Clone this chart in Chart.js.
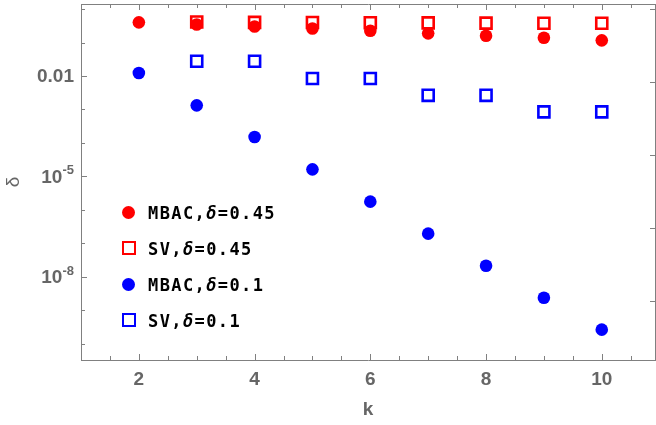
<!DOCTYPE html>
<html>
<head>
<meta charset="utf-8">
<script src="https://cdn.jsdelivr.net/npm/chart.js@4.4.0/dist/chart.umd.min.js"></script>
<style>
  body { margin: 0; background: #fff; }
  #wrap { position: relative; width: 656px; height: 425px; }
  #legend { position: absolute; left: 0; top: 0; font: bold 17px "DejaVu Sans Mono", monospace; letter-spacing: 1.4px; color: #000; }
  #legend .row { position: absolute; left: 120px; height: 20px; line-height: 20px; white-space: nowrap; }
  #legend .mk { position: absolute; left: 2px; top: 3px; width: 13px; height: 13px; box-sizing: border-box; }
  #legend .txt { position: absolute; left: 28px; top: 0; }
  #legend i { font-style: italic; }
</style>
</head>
<body>
<div id="wrap">
  <canvas id="chart" width="656" height="425"></canvas>
  <div id="legend"></div>
</div>
<script>
// values
const kMBAC = [2, 3, 4, 5, 6, 7, 8, 9, 10];
const kSV = [3, 4, 5, 6, 7, 8, 9, 10];
const mbac045 = [0.40, 0.344, 0.30, 0.262, 0.225, 0.188, 0.16, 0.139, 0.116];
const sv045 = [0.41, 0.40, 0.395, 0.39, 0.385, 0.38, 0.375, 0.375];
const mbac01 = [0.0123, 0.00133, 1.51e-4, 1.63e-5, 1.77e-6, 1.96e-7, 2.17e-8, 2.4e-9, 2.67e-10];
const sv01 = [0.0276, 0.0276, 0.0084, 0.0084, 0.00265, 0.00265, 0.00085, 0.00085];

const seriesLabels = ["MBAC,δ=0.45", "SV,δ=0.45", "MBAC,δ=0.1", "SV,δ=0.1"];

// ticks
const xTickValues = [1.5, 2, 2.5, 3, 3.5, 4, 4.5, 5, 5.5, 6, 6.5, 7, 7.5, 8, 8.5, 9, 9.5, 10, 10.5];
const xTickLabels = [2, 4, 6, 8, 10];
const yTickValues = [1, 1e-1, 1e-2, 1e-3, 1e-4, 1e-5, 1e-6, 1e-7, 1e-8, 1e-9, 1e-10];
const yLabelValues = [1e-2, 1e-5, 1e-8];
const yLabelBases = ["0.01", "10", "10"];
const yLabelExps = ["", "-5", "-8"];
const rightTickValues = [0, -2.18, -4.36, -6.54, -8.72];

const axisColor = "#808080";
const labelColor = "#666666";
const tickFont = "Liberation Sans";

const toPoints = (xs, ys) => xs.map((x, i) => ({ x: x, y: ys[i] }));

const frameTicks = {
  id: "frameTicks",
  beforeDatasetsDraw(chart) {
    const { ctx, chartArea: a, scales } = chart;
    const { x, y, yRight } = scales;
    ctx.save();
    ctx.strokeStyle = axisColor;
    ctx.lineWidth = 1;
    ctx.beginPath();
    x.ticks.forEach(t => {
      const px = Math.round(x.getPixelForValue(t.value)) + 0.5;
      const len = t.value % 2 === 0 ? 6 : 4;
      ctx.moveTo(px, a.bottom); ctx.lineTo(px, a.bottom - len);
      ctx.moveTo(px, a.top); ctx.lineTo(px, a.top + len);
    });
    y.ticks.forEach(t => {
      const py = Math.round(y.getPixelForValue(t.value)) + 0.5;
      const len = yLabelValues.includes(t.value) ? 6 : 4;
      ctx.moveTo(a.left, py); ctx.lineTo(a.left + len, py);
    });
    yRight.ticks.forEach(t => {
      const py = Math.round(yRight.getPixelForValue(t.value)) + 0.5;
      ctx.moveTo(a.right, py); ctx.lineTo(a.right - 5, py);
    });
    ctx.stroke();
    ctx.restore();
  },
  afterDraw(chart) {
    // y labels with superscript exponents
    const { ctx, scales: { y } } = chart;
    const right = 74;
    ctx.save();
    ctx.fillStyle = labelColor;
    ctx.textAlign = "right";
    ctx.textBaseline = "middle";
    yLabelValues.forEach((v, i) => {
      const py = y.getPixelForValue(v);
      let r = right;
      if (yLabelExps[i]) {
        ctx.font = "bold 13px " + tickFont;
        ctx.fillText(yLabelExps[i], r, py - 6);
        r -= ctx.measureText(yLabelExps[i]).width;
      }
      ctx.font = "bold 19px " + tickFont;
      ctx.fillText(yLabelBases[i], r, py + 1);
    });
    ctx.restore();
  }
};

const chart = new Chart(document.getElementById("chart"), {
  type: "scatter",
  data: {
    datasets: [
      {
        label: seriesLabels[0],
        data: toPoints(kMBAC, mbac045),
        pointStyle: "circle",
        pointRadius: 6.3,
        borderWidth: 0,
        backgroundColor: "#ff0000",
        borderColor: "#ff0000",
        xAxisID: "x", yAxisID: "y",
      },
      {
        label: seriesLabels[1],
        data: toPoints(kSV, sv045),
        pointStyle: "rect",
        pointRadius: 7.8,
        borderWidth: 2.6,
        backgroundColor: "rgba(0,0,0,0)",
        borderColor: "#ff0000",
        xAxisID: "x", yAxisID: "y",
      },
      {
        label: seriesLabels[2],
        data: toPoints(kMBAC, mbac01),
        pointStyle: "circle",
        pointRadius: 6.3,
        borderWidth: 0,
        backgroundColor: "#0000ff",
        borderColor: "#0000ff",
        xAxisID: "x", yAxisID: "y",
      },
      {
        label: seriesLabels[3],
        data: toPoints(kSV, sv01),
        pointStyle: "rect",
        pointRadius: 7.8,
        borderWidth: 2.6,
        backgroundColor: "rgba(0,0,0,0)",
        borderColor: "#0000ff",
        xAxisID: "x", yAxisID: "y",
      },
    ],
  },
  options: {
    responsive: false,
    animation: false,
    events: [],
    layout: { autoPadding: false, padding: 0 },
    plugins: { legend: { display: false }, tooltip: { enabled: false } },
    scales: {
      x: {
        type: "linear", position: "bottom", min: 1, max: 10.92,
        grid: { display: false, drawTicks: false },
        border: { display: true, color: axisColor, width: 1 },
        afterBuildTicks: s => { s.ticks = xTickValues.map(v => ({ value: v })); },
        afterFit: s => { s.height = 65; },
        ticks: {
          autoSkip: false, maxRotation: 0, padding: 8, color: labelColor,
          font: { family: tickFont, weight: "bold", size: 19 },
          callback: v => (xTickLabels.includes(v) ? String(v) : ""),
        },
        title: {
          display: true, text: "k", color: labelColor,
          font: { family: tickFont, weight: "bold", size: 19 },
          padding: { top: 0, bottom: 4 },
        },
      },
      xTop: {
        type: "linear", position: "top", min: 1, max: 10.92,
        grid: { display: false, drawTicks: false },
        border: { display: true, color: axisColor, width: 1 },
        ticks: { display: false },
        afterFit: s => { s.height = 4; },
      },
      y: {
        type: "logarithmic", position: "left",
        min: Math.pow(10, -10.48), max: Math.pow(10, 0.15),
        grid: { display: false, drawTicks: false },
        border: { display: true, color: axisColor, width: 1 },
        afterBuildTicks: s => { s.ticks = yTickValues.map(v => ({ value: v })); },
        afterFit: s => { s.width = 81; },
        ticks: { display: false },
        title: {
          display: true, text: "δ", color: labelColor,
          font: { family: tickFont, size: 19 },
          padding: { top: 2, bottom: 0 },
        },
      },
      yRight: {
        type: "linear", position: "right", min: -10.48, max: 0.15,
        grid: { display: false, drawTicks: false },
        border: { display: true, color: axisColor, width: 1 },
        ticks: { display: false },
        afterBuildTicks: s => { s.ticks = rightTickValues.map(v => ({ value: v })); },
        afterFit: s => { s.width = 1; },
      },
    },
  },
  plugins: [frameTicks],
});

// legend built from the datasets
const legend = document.getElementById("legend");
chart.data.datasets.forEach((ds, i) => {
  const row = document.createElement("div");
  row.className = "row";
  row.style.top = (203 + i * 36) + "px";
  const mk = document.createElement("span");
  mk.className = "mk";
  if (ds.pointStyle === "circle") {
    mk.style.background = ds.backgroundColor;
    mk.style.borderRadius = "50%";
  } else {
    mk.style.border = "2.6px solid " + ds.borderColor;
    mk.style.width = "14px"; mk.style.height = "14px";
    mk.style.top = "2px"; mk.style.left = "1.5px";
  }
  const txt = document.createElement("span");
  txt.className = "txt";
  txt.innerHTML = ds.label.replace("δ", "<i>δ</i>");
  row.appendChild(mk);
  row.appendChild(txt);
  legend.appendChild(row);
});
</script>
</body>
</html>
